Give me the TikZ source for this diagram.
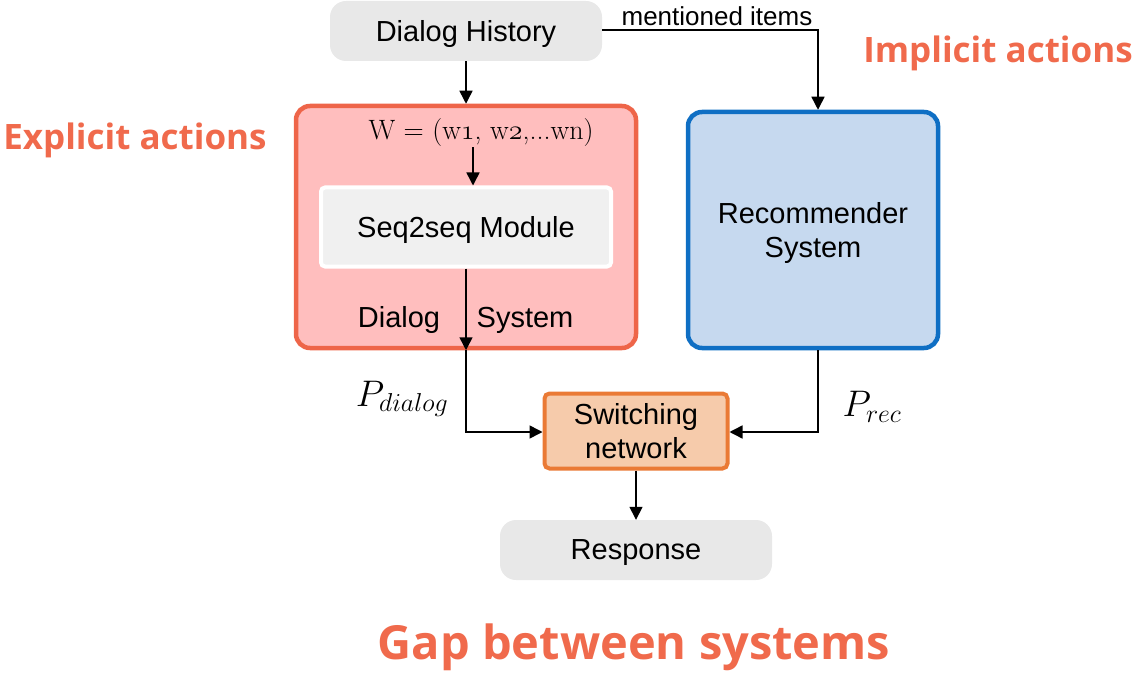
\RequirePackage{fix-cm}
\documentclass[tikz,border=0pt]{standalone}
\usepackage{fontspec}
\setsansfont{Liberation Sans}
\newfontfamily\titlefont{Open Sans}
\usetikzlibrary{arrows.meta}
\definecolor{grayfill}{HTML}{E8E8E8}
\definecolor{redfill}{HTML}{FFBEBE}
\definecolor{redline}{HTML}{EE6549}
\definecolor{bluefill}{HTML}{C6D9EF}
\definecolor{blueline}{HTML}{0F6FC4}
\definecolor{orfill}{HTML}{F6CBAB}
\definecolor{orline}{HTML}{EA7A35}
\definecolor{seqfill}{HTML}{F0F0F0}
\definecolor{titlecol}{HTML}{F06A4C}
\newcommand{\osn}[1]{{\fontencoding{OML}\fontfamily{cmm}\fontseries{m}\fontshape{it}\selectfont #1}}
\tikzset{
  boxtext/.style={font=\sffamily\fontsize{29}{34}\selectfont, align=center, text depth=0pt},
  graybox/.style={boxtext, fill=grayfill, rounded corners=16pt, minimum width=272pt, minimum height=60pt, inner sep=0pt},
  conn/.style={line width=1.5pt, -{Triangle[length=13pt,width=13pt]}},
  title/.style={font=\titlefont\bfseries\fontsize{35}{42}\selectfont, text=titlecol},
  plabel/.style={font=\fontsize{37}{44}\selectfont},
}
\begin{document}
\begin{tikzpicture}[x=1pt,y=-1pt]
\useasboundingbox (0,0) rectangle (1134,676);
% boxes
\node[graybox] (hist) at (466,31) {Dialog History};
\node[draw=redline, line width=4.5pt, fill=redfill, rounded corners=14pt, minimum width=340pt, minimum height=242pt, inner sep=0pt] (dial) at (466,227) {};
\node[font=\rmfamily\fontsize{28}{34}\selectfont, inner sep=0pt] (w) at (481,133) {W = (w\osn{1}, w\osn{2},...wn)};
\node[boxtext, draw=white, line width=4pt, fill=seqfill, rounded corners=4pt, minimum width=290pt, minimum height=79pt, inner sep=0pt] (seq) at (466,227) {Seq2seq Module};
\node[boxtext, inner sep=0pt] (dtext) at (399,317) {Dialog};
\node[boxtext, inner sep=0pt] (stext) at (525,317) {System};
\node[boxtext, draw=blueline, line width=4.5pt, fill=bluefill, rounded corners=14pt, minimum width=250pt, minimum height=236pt, inner sep=0pt] (rec) at (813,230) {Recommender\\System};
\node[boxtext, draw=orline, line width=4pt, fill=orfill, rounded corners=5pt, minimum width=183pt, minimum height=75pt, inner sep=0pt] (sw) at (636,431) {Switching\\network};
\node[graybox] (resp) at (636,550) {Response};
% labels
\node[plabel] (pd) at (402,399) {$P_{dialog}$};
\node[plabel] (pr) at (872,407) {$P_{rec}$};
\node[title] (expl) at (135,140) {Explicit actions};
\node[title] (impl) at (998,53) {Implicit actions};
\node[title, font=\titlefont\bfseries\fontsize{47}{56}\selectfont] (gap) at (634,647) {Gap between systems};
\node[font=\sffamily\fontsize{26}{30}\selectfont, inner sep=0pt] (mitext) at (717,16) {mentioned items};
% connectors
\coordinate (mi) at (818,30);
\draw[conn] (hist.east |- 0,30) -- (mi) -- (rec.north -| mi);
\draw[conn] (hist.south) -- (dial.north);
\draw[conn] (w.south -| 473,0) -- (seq.north -| 473,0);
\draw[conn] (seq.south) -- (dial.south);
\coordinate (dl) at (466,432);
\draw[conn] (dial.south) -- (dl) -- (sw.west |- dl);
\coordinate (rl) at (818,432);
\draw[conn] (rec.south -| rl) -- (rl) -- (sw.east |- rl);
\draw[conn] (sw.south) -- (resp.north);
\end{tikzpicture}
\end{document}
